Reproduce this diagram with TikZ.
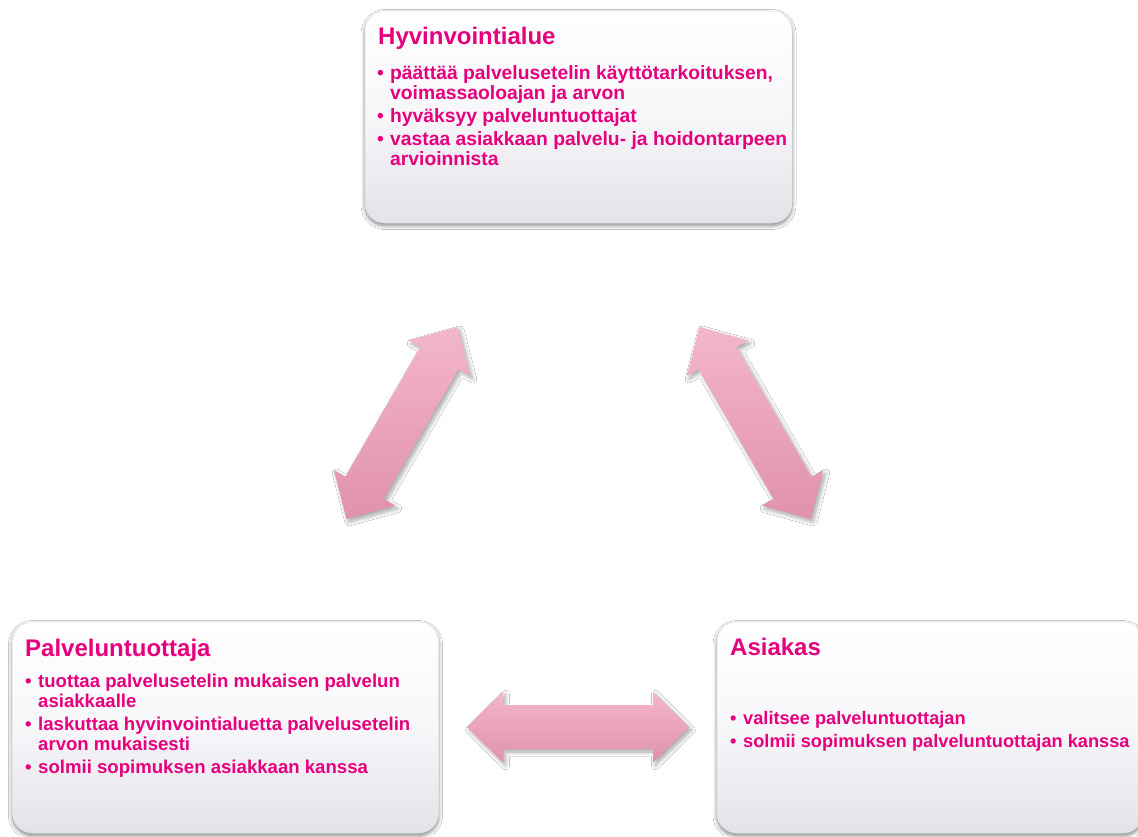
\documentclass[tikz,border=0pt]{standalone}
\usepackage{fontspec}
\setmainfont{Liberation Sans}
\usetikzlibrary{calc,shadows.blur}

\definecolor{magentatxt}{RGB}{230,0,126}
\definecolor{boxbottom}{RGB}{226,226,232}
\definecolor{boxmid}{RGB}{247,247,250}
\definecolor{arrowtop}{RGB}{243,182,202}
\definecolor{arrowbot}{RGB}{225,145,172}

\tikzset{
  infobox/.style={rectangle, rounded corners=20pt, top color=white, bottom color=boxbottom,
    middle color=boxmid, draw=black!10, line width=0.5pt, inner sep=0pt,
    blur shadow={shadow blur steps=8, shadow xshift=0pt, shadow yshift=-2.5pt,
      shadow blur radius=4pt, shadow opacity=50}},
  boxtitle/.style={anchor=base west, inner sep=0pt, text=magentatxt,
    font=\bfseries\fontsize{24}{28}\selectfont},
  bulletlist/.style={anchor=base west, inner sep=0pt, text=magentatxt,
    font=\bfseries\fontsize{#1}{20}\selectfont},
  bulletlist/.default=19,
  blockarrow/.style={top color=arrowtop, bottom color=arrowbot,
    blur shadow={shadow blur steps=8, shadow xshift=2.5pt, shadow yshift=-3pt,
      shadow blur radius=4pt, shadow opacity=35}},
}

\newcommand\bul{\makebox[13pt][l]{•}}
\newcommand\gap{\\[3.3pt]}

% #1 prefix, #2 start coordinate, #3 end coordinate
\newcommand\drawblockarrow[3]{%
  \coordinate (#1h1) at ($(#2)!36pt!(#3)$);
  \coordinate (#1h2) at ($(#3)!36pt!(#2)$);
  \path[blockarrow] (#2)
    -- ($(#1h1)!35.5pt!90:(#2)$) -- ($(#1h1)!22pt!90:(#2)$)
    -- ($(#1h2)!22pt!-90:(#3)$) -- ($(#1h2)!35.5pt!-90:(#3)$)
    -- (#3)
    -- ($(#1h2)!35.5pt!90:(#3)$) -- ($(#1h2)!22pt!90:(#3)$)
    -- ($(#1h1)!22pt!-90:(#2)$) -- ($(#1h1)!35.5pt!-90:(#2)$)
    -- cycle;
}

\begin{document}
\begin{tikzpicture}[x=1pt,y=-1pt]
\useasboundingbox (0,0) rectangle (1138,836);
\fill[white] (0,0) rectangle (1138,836);
\clip (0,0) rectangle (1138,836);

% boxes
\node[infobox, minimum width=427pt, minimum height=212pt] (hyv) at (578.5,117) {};
\node[infobox, minimum width=426pt, minimum height=211pt] (pal) at (225.5,727.5) {};
\node[infobox, minimum width=426pt, minimum height=211pt] (asi) at (930,727.5) {};

% titles
\node[boxtitle] (hyvT) at (378,44) {Hyvinvointialue};
\node[boxtitle] (palT) at (25,656) {Palveluntuottaja};
\node[boxtitle] (asiT) at (730,655) {Asiakas};

% bullet lists
\node[bulletlist=19.3] (hyvL) at (377,79) {%
  \begin{tabular}[t]{@{}l@{}l@{}}
  \bul & päättää palvelusetelin käyttötarkoituksen,\\
       & voimassaoloajan ja arvon\gap
  \bul & hyväksyy palveluntuottajat\gap
  \bul & vastaa asiakkaan palvelu- ja hoidontarpeen\\
       & arvioinnista
  \end{tabular}};
\node[bulletlist=18.6] (palL) at (25,687) {%
  \begin{tabular}[t]{@{}l@{}l@{}}
  \bul & tuottaa palvelusetelin mukaisen palvelun\\
       & asiakkaalle\gap
  \bul & laskuttaa hyvinvointialuetta palvelusetelin\\
       & arvon mukaisesti\gap
  \bul & solmii sopimuksen asiakkaan kanssa
  \end{tabular}};
\node[bulletlist=18.2] (asiL) at (730,724) {%
  \begin{tabular}[t]{@{}l@{}l@{}}
  \bul & valitsee palveluntuottajan\gap
  \bul & solmii sopimuksen palveluntuottajan kanssa
  \end{tabular}};

% block arrows
\coordinate (aL1) at (346.5,519);
\coordinate (aL2) at (457.5,327);
\coordinate (aR1) at (699.5,327);
\coordinate (aR2) at (810.5,519);
\coordinate (aH1) at (467,727);
\coordinate (aH2) at (689,727);
\drawblockarrow{aL}{aL1}{aL2}
\drawblockarrow{aR}{aR1}{aR2}
\drawblockarrow{aH}{aH1}{aH2}
\end{tikzpicture}
\end{document}
